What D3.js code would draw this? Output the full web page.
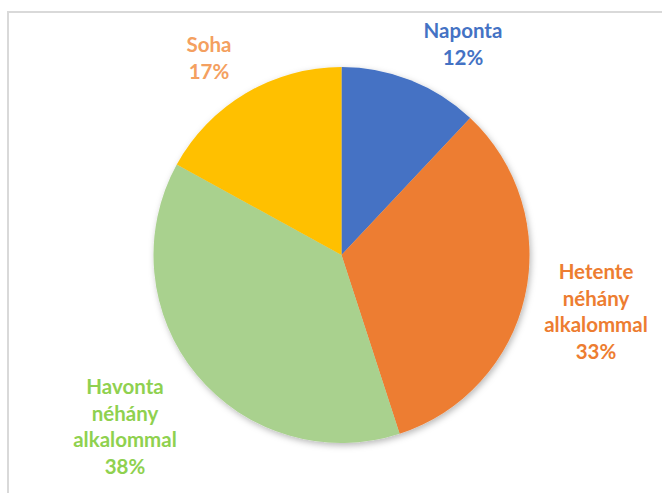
<!DOCTYPE html>
<html>
<head>
<meta charset="utf-8">
<script src="https://cdn.jsdelivr.net/npm/d3@7"></script>
<style>
  html, body { margin: 0; padding: 0; background: #fff; }
  svg { display: block; }
  .lbl { font-family: Lato, "Open Sans", sans-serif; font-weight: 700; font-size: 20.5px; }
</style>
</head>
<body>
<svg id="chart" width="662" height="493"></svg>
<script>
// Gyakoriság kategóriák és arányuk (%)
const categories = ["Naponta", "Hetente néhány alkalommal", "Havonta néhány alkalommal", "Soha"];
const shares = [12, 33, 38, 17];
const labelLines = [["Naponta"], ["Hetente", "néhány", "alkalommal"], ["Havonta", "néhány", "alkalommal"], ["Soha"]];

const sliceColors = ["#4472C4", "#ED7D31", "#A9D18E", "#FFC000"];
const labelColors = ["#4472C4", "#ED7D31", "#8FD14F", "#F4A060"];

const width = 662, height = 493;
const cx = 341.5, cy = 255, radius = 188;

// Label anchor: x centre and first baseline
const labelAnchors = [
  { x: 463, y: 38 },
  { x: 596, y: 279 },
  { x: 125, y: 394 },
  { x: 209, y: 52 }
];
const lineStep = 26.5;

const svg = d3.select("#chart");

// Chart frame
svg.append("rect")
  .attr("x", 8).attr("y", 12)
  .attr("width", width + 10).attr("height", height + 10)
  .attr("fill", "none")
  .attr("stroke", "#D9D9D9")
  .attr("stroke-width", 2);

const defs = svg.append("defs");
const shadow = defs.append("filter").attr("id", "pieShadow")
  .attr("x", "-20%").attr("y", "-20%").attr("width", "140%").attr("height", "140%");
shadow.append("feDropShadow")
  .attr("dx", 1.5).attr("dy", 2.5)
  .attr("stdDeviation", 3)
  .attr("flood-color", "#000")
  .attr("flood-opacity", 0.28);

const pie = d3.pie().sort(null).value(d => d.value);
const arc = d3.arc().innerRadius(0).outerRadius(radius);

const data = categories.map((c, i) => ({ name: c, value: shares[i], idx: i }));
const arcs = pie(data);

const g = svg.append("g")
  .attr("transform", `translate(${cx},${cy})`);

const slices = g.append("g").attr("filter", "url(#pieShadow)");
slices.selectAll("path")
  .data(arcs)
  .join("path")
  .attr("d", arc)
  .attr("fill", d => sliceColors[d.data.idx]);

// Data labels: category name followed by percentage
const labels = svg.append("g");
arcs.forEach(d => {
  const i = d.data.idx;
  const lines = labelLines[i].concat([`${d.data.value}%`]);
  const t = labels.append("text")
    .attr("class", "lbl")
    .attr("text-anchor", "middle")
    .attr("fill", labelColors[i]);
  lines.forEach((ln, k) => {
    t.append("tspan")
      .attr("x", labelAnchors[i].x)
      .attr("y", labelAnchors[i].y + k * lineStep)
      .text(ln);
  });
});
</script>
</body>
</html>
